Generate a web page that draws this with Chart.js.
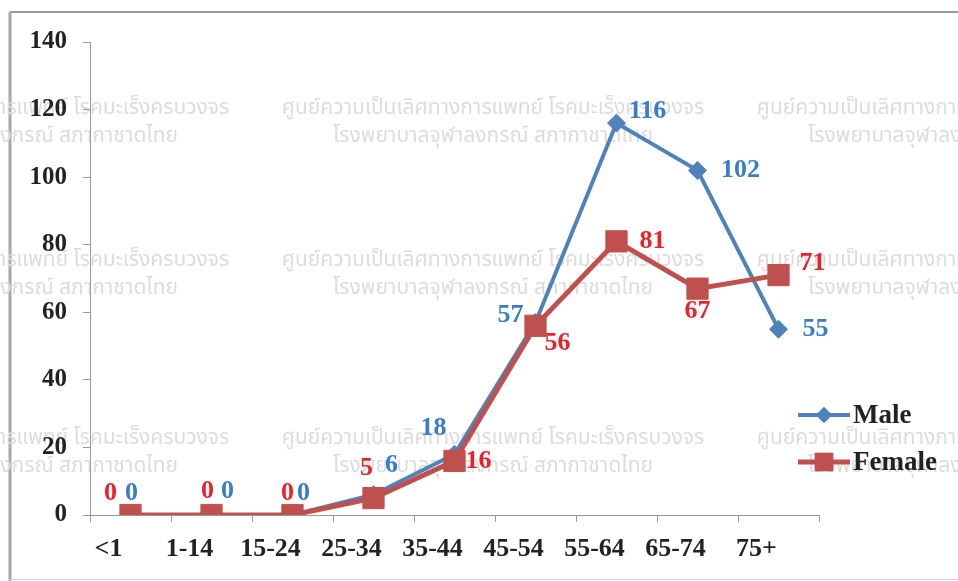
<!DOCTYPE html>
<html>
<head>
<meta charset="utf-8">
<script src="https://cdn.jsdelivr.net/npm/chart.js@4.4.1/dist/chart.umd.min.js"></script>
<style>
  html, body { margin: 0; padding: 0; background: #fff; }
  #wrap { width: 958px; height: 581px; position: relative; }
</style>
</head>
<body>
<div id="wrap"><canvas id="c" width="958" height="581"></canvas></div>
<script>
// chart data
var ageGroups = ["<1", "1-14", "15-24", "25-34", "35-44", "45-54", "55-64", "65-74", "75+"];
var maleCases = [0, 0, 0, 6, 18, 57, 116, 102, 55];
var femaleCases = [0, 0, 0, 5, 16, 56, 81, 67, 71];
var yTicks = [0, 20, 40, 60, 80, 100, 120, 140];

// watermark text
var wmLine1 = "ศูนย์ความเป็นเลิศทางการแพทย์ โรคมะเร็งครบวงจร";
var wmLine2 = "โรงพยาบาลจุฬาลงกรณ์ สภากาชาดไทย";

var BLUE = "#4F81BD", RED = "#C0504D";
var BLUE_TXT = "#3A7CC8", RED_TXT = "#E8232A";
var serif = "'Liberation Serif', 'Times New Roman', serif";

// label offsets (dx, dy) from each point
var maleOff = [[1,-22],[16,-24],[11,-22],[18,-29],[-21,-26],[-25,-7],[31,-12],[43,0],[37,0]];
var femaleOff = [[-20,-22],[-4,-24],[-5,-22],[-7,-30],[24,0],[22,17],[36,0],[0,23],[34,-12]];

var backdrop = {
  id: "backdrop",
  beforeDraw: function(chart) {
    var ctx = chart.ctx;
    ctx.save();
    ctx.fillStyle = "#fff";
    ctx.fillRect(0, 0, 958, 581);
    // frame
    ctx.strokeStyle = "#9a9a9a";
    ctx.lineWidth = 2;
    ctx.beginPath();
    ctx.moveTo(10, 12); ctx.lineTo(958, 12);
    ctx.stroke();
    ctx.strokeStyle = "#a8a8a8";
    ctx.lineWidth = 3;
    ctx.beginPath();
    ctx.moveTo(10, 12); ctx.lineTo(10, 581);
    ctx.stroke();
    ctx.strokeStyle = "#d0d0d0";
    ctx.lineWidth = 1;
    ctx.beginPath();
    ctx.moveTo(10, 579.5); ctx.lineTo(958, 579.5);
    ctx.stroke();
    // watermark
    ctx.fillStyle = "#dcdcdc";
    ctx.font = "21px 'Noto Sans Thai', 'Noto Sans', 'DejaVu Sans', sans-serif";
    ctx.textAlign = "center";
    ctx.textBaseline = "middle";
    var rows = [110, 262, 440];
    var cols = [18, 493, 968];
    rows.forEach(function(y) {
      cols.forEach(function(x) {
        ctx.fillText(wmLine1, x, y);
        ctx.fillText(wmLine2, x, y + 28);
      });
    });
    ctx.restore();
  }
};

var pointLabels = {
  id: "pointLabels",
  afterDatasetsDraw: function(chart) {
    var ctx = chart.ctx;
    ctx.save();
    ctx.font = "bold 26px " + serif;
    ctx.textAlign = "center";
    ctx.textBaseline = "middle";
    var sets = [[0, maleCases, maleOff, BLUE_TXT], [1, femaleCases, femaleOff, RED_TXT]];
    sets.forEach(function(s) {
      var meta = chart.getDatasetMeta(s[0]);
      meta.data.forEach(function(pt, i) {
        ctx.fillStyle = s[3];
        ctx.fillText(String(s[1][i]), pt.x + s[2][i][0], pt.y + s[2][i][1]);
      });
    });
    // legend
    var items = [["Male", BLUE, "rectRot", 8, 415], ["Female", RED, "rect", 13, 462]];
    items.forEach(function(it) {
      ctx.strokeStyle = it[1];
      ctx.lineWidth = it[0] === "Male" ? 4 : 5;
      ctx.beginPath();
      ctx.moveTo(798, it[4]); ctx.lineTo(850, it[4]);
      ctx.stroke();
      ctx.fillStyle = it[1];
      Chart.helpers.drawPoint(ctx, { pointStyle: it[2], radius: it[3], borderWidth: 0 }, 824, it[4]);
      ctx.fill();
      ctx.fillStyle = "#222";
      ctx.textAlign = "left";
      ctx.font = "bold 27px " + serif;
      ctx.fillText(it[0], 853, it[4] + 1);
    });
    ctx.restore();
  }
};

new Chart(document.getElementById("c"), {
  type: "line",
  data: {
    labels: ageGroups,
    datasets: [
      {
        label: "Male",
        data: maleCases,
        borderColor: BLUE,
        backgroundColor: BLUE,
        borderWidth: 4,
        pointStyle: "rectRot",
        pointRadius: 9,
        pointBorderWidth: 1,
        tension: 0,
        order: 2
      },
      {
        label: "Female",
        data: femaleCases,
        borderColor: RED,
        backgroundColor: RED,
        borderWidth: 5,
        pointStyle: "rect",
        pointRadius: 15,
        pointBorderWidth: 1,
        tension: 0,
        order: 1
      }
    ]
  },
  options: {
    responsive: false,
    animation: false,
    layout: { padding: { left: 0, top: 42, right: 139, bottom: 0 } },
    plugins: {
      legend: { display: false },
      tooltip: { enabled: false }
    },
    scales: {
      x: {
        offset: true,
        grid: { offset: true, drawOnChartArea: false, tickLength: 7, color: "#999" },
        border: { color: "#999", width: 1 },
        ticks: {
          color: "#222",
          font: { family: serif, size: 26, weight: "bold" },
          labelOffset: -22,
          padding: 12,
          maxRotation: 0,
          autoSkip: false
        },
        afterFit: function(s) { s.height = 66; }
      },
      y: {
        min: 0,
        max: 140,
        afterBuildTicks: function(s) { s.ticks = yTicks.map(function(v) { return { value: v }; }); },
        grid: { drawOnChartArea: false, tickLength: 7, color: "#999" },
        border: { color: "#999", width: 1 },
        ticks: {
          color: "#222",
          font: { family: serif, size: 25, weight: "bold" },
          padding: 16
        },
        afterFit: function(s) { s.width = 90; }
      }
    }
  },
  plugins: [backdrop, pointLabels]
});
</script>
</body>
</html>
